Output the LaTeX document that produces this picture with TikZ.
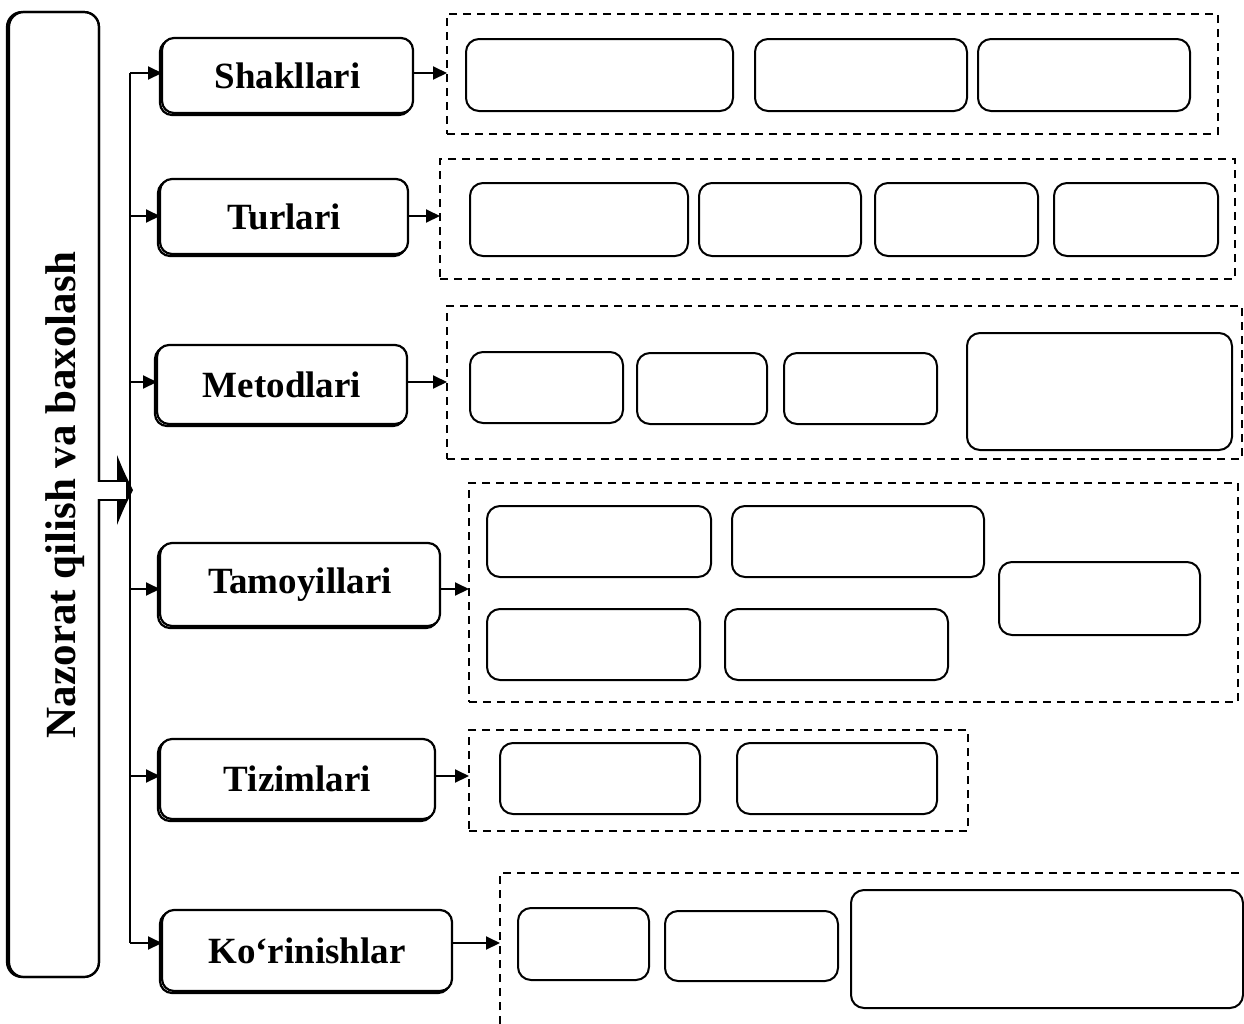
\documentclass[tikz,border=0pt]{standalone}
\usepackage{fontspec}
\setmainfont{Liberation Serif}
\usetikzlibrary{arrows.meta}
\tikzset{
 lbl/.style={draw, line width=1.1pt, rounded corners=6pt, font=\fontsize{18.5}{22}\selectfont\bfseries, inner sep=0pt, outer sep=0pt, fill=white},
 lblshadow/.style={draw, line width=1.1pt, rounded corners=6pt},
 ibox/.style={draw, line width=1pt, rounded corners=6.5pt, inner sep=0pt, outer sep=0pt},
 cont/.style={draw, line width=0.9pt, dash pattern=on 4pt off 3pt, inner sep=0pt, outer sep=0pt},
 arr/.style={line width=1pt, -{Triangle[length=7pt,width=6.5pt]}},
 trunk/.style={line width=1pt},
}
\newcommand\placebox[6]{\node[#1, minimum width={(#5-#3)*0.5pt}, minimum height={(#6-#4)*0.5pt}] (#2) at ({(#3+#5)/2},{(#4+#6)/2}) {};}
\newcommand\placelabel[6]{%
 \draw[lblshadow] ({#2-2},{#3+2}) rectangle ({#4-2},{#5+2});
 \node[lbl, minimum width={(#4-#2)*0.5pt}, minimum height={(#5-#3)*0.5pt}] (#1) at ({(#2+#4)/2},{(#3+#5)/2}) {#6};}
\begin{document}
\begin{tikzpicture}[x=0.5pt,y=-0.5pt]
\useasboundingbox (0,0) rectangle (1244,1024);
% main box
\draw[line width=1.1pt, rounded corners=7.5pt] (7,12) rectangle (99,977);
\draw[line width=1.1pt, rounded corners=7.5pt] (9,12) rectangle (99,977);
\node[rotate=90, font=\fontsize{21.5}{25}\selectfont\bfseries, inner sep=0pt] (main) at (65,495) {Nazorat qilish va baxolash};
% double arrow
\fill (117,455) .. controls (124,472) .. (133,490) .. controls (124,508) .. (117,525) -- cycle;
\fill[white] (97,482) rectangle (126,499);
\draw[line width=1.2pt] (99,481) -- (125,481);
\draw[line width=1.2pt] (99,500) -- (125,500);
% trunk
\coordinate (ttop) at (130,73);
\coordinate (tbot) at (130,943);
\draw[trunk] (ttop) -- (tbot);
% labels
\placelabel{L1}{162}{38}{413}{113}{Shakllari}
\placelabel{L2}{160}{179}{408}{254}{Turlari}
\placelabel{L3}{157}{345}{407}{424}{Metodlari}
\placelabel{L4}{160}{543}{440}{626}{Tamoyillari}
\placelabel{L5}{160}{739}{435}{819}{Tizimlari}
\placelabel{L6}{162}{910}{452}{991}{Ko‘rinishlar}
% containers
\placebox{cont}{C1}{447}{14}{1218}{134}
\placebox{cont}{C2}{440}{159}{1235}{279}
\placebox{cont}{C3}{447}{306}{1242}{459}
\placebox{cont}{C4}{469}{483}{1238}{702}
\placebox{cont}{C5}{469}{730}{968}{831}
\draw[line width=0.9pt, dash pattern=on 4pt off 3pt] (500,1024) -- (500,873) -- (1244,873);
\coordinate (C6) at (500,943);
% arrows in
\draw[arr] (130,73) -- (L1.west |- 0,73);
\draw[arr] (130,216) -- (L2.west |- 0,216);
\draw[arr] (130,382) -- (L3.west |- 0,382);
\draw[arr] (130,589) -- (L4.west |- 0,589);
\draw[arr] (130,776) -- (L5.west |- 0,776);
\draw[arr] (130,943) -- (L6.west |- 0,943);
% arrows out
\draw[arr] (L1.east |- 0,73) -- (C1.west |- 0,73);
\draw[arr] (L2.east |- 0,216) -- (C2.west |- 0,216);
\draw[arr] (L3.east |- 0,382) -- (C3.west |- 0,382);
\draw[arr] (L4.east |- 0,589) -- (C4.west |- 0,589);
\draw[arr] (L5.east |- 0,776) -- (C5.west |- 0,776);
\draw[arr] (L6.east |- 0,943) -- (C6);
% inner boxes row 1
\placebox{ibox}{a1}{466}{39}{733}{111}
\placebox{ibox}{a2}{755}{39}{967}{111}
\placebox{ibox}{a3}{978}{39}{1190}{111}
% row 2
\placebox{ibox}{b1}{470}{183}{688}{256}
\placebox{ibox}{b2}{699}{183}{861}{256}
\placebox{ibox}{b3}{875}{183}{1038}{256}
\placebox{ibox}{b4}{1054}{183}{1218}{256}
% row 3
\placebox{ibox}{c1}{470}{352}{623}{423}
\placebox{ibox}{c2}{637}{353}{767}{424}
\placebox{ibox}{c3}{784}{353}{937}{424}
\placebox{ibox}{c4}{967}{333}{1232}{450}
% row 4
\placebox{ibox}{d1}{487}{506}{711}{577}
\placebox{ibox}{d2}{732}{506}{984}{577}
\placebox{ibox}{d3}{999}{562}{1200}{635}
\placebox{ibox}{d4}{487}{609}{700}{680}
\placebox{ibox}{d5}{725}{609}{948}{680}
% row 5
\placebox{ibox}{e1}{500}{743}{700}{814}
\placebox{ibox}{e2}{737}{743}{937}{814}
% row 6
\placebox{ibox}{f1}{518}{908}{649}{980}
\placebox{ibox}{f2}{665}{911}{838}{981}
\placebox{ibox}{f3}{851}{890}{1243}{1008}
\end{tikzpicture}
\end{document}
